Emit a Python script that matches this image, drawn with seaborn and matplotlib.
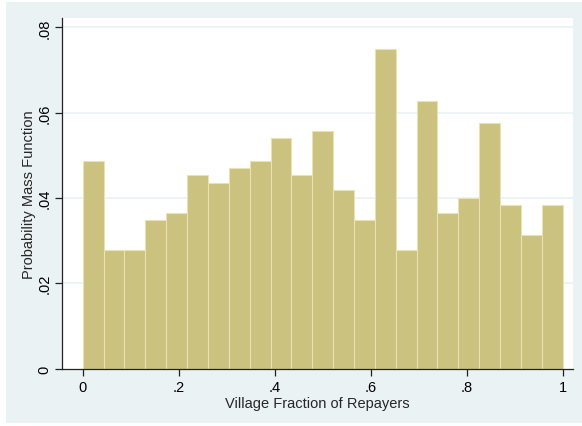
import numpy as np
import pandas as pd
import matplotlib
matplotlib.use("Agg")
import matplotlib.pyplot as plt
import matplotlib.patches as mpatches
import seaborn as sns

# Village counts per bin of the repayment fraction (23 equal-width bins on [0, 1])
bin_counts = [28, 16, 16, 20, 21, 26, 25, 27, 28, 31, 26, 32,
              24, 20, 43, 16, 36, 21, 23, 33, 22, 18, 22]
n_bins = 23
x_ticks = [0, 0.2, 0.4, 0.6, 0.8, 1.0]
x_tick_labels = ["0", ".2", ".4", ".6", ".8", "1"]
y_ticks = [0, 0.02, 0.04, 0.06, 0.08]
y_tick_labels = ["0", ".02", ".04", ".06", ".08"]

edges = np.linspace(0, 1, n_bins + 1)
centers = (edges[:-1] + edges[1:]) / 2
pmf = np.array(bin_counts) / sum(bin_counts)
df = pd.DataFrame({"fraction": centers, "pmf": pmf})

sns.set_style("white")
plt.rcParams["font.family"] = ["Liberation Sans", "DejaVu Sans"]

W, H = 582, 427
fig = plt.figure(figsize=(W / 100, H / 100), dpi=100)
fig.patch.set_facecolor("white")
bg = "#EAF2F3"
fig.patches.append(mpatches.Rectangle((6 / W, 3 / H), 1 - 6 / W, (424 - 3) / H,
                                      transform=fig.transFigure, facecolor=bg,
                                      edgecolor="none", zorder=-10))

ax = fig.add_axes([62.3 / W, 1 - 369.5 / H, (572.7 - 62.3) / W, (369.5 - 19) / H])
ax.set_facecolor("white")

sns.histplot(data=df, x="fraction", weights="pmf", bins=n_bins, binrange=(0, 1),
             stat="count", color="#CBC27F", edgecolor="#E8E2B4", linewidth=0.8,
             alpha=1.0, ax=ax, zorder=2)

ax.set_xlim(-0.0425, 1.0208)
ax.set_ylim(0, 0.0822)
for yv in y_ticks[1:]:
    ax.axhline(yv, color=bg, linewidth=1.2, zorder=1)

ax.set_xticks(x_ticks)
ax.set_xticklabels(x_tick_labels, fontsize=10.5)
ax.set_yticks(y_ticks)
ax.set_yticklabels(y_tick_labels, fontsize=10.5, rotation=90, va="center")
ax.tick_params(axis="both", direction="out", length=5, width=0.9, color="#222222",
               labelcolor="black", pad=3)
ax.tick_params(axis="x", bottom=True)
ax.tick_params(axis="y", left=True)

ax.set_xlabel("Village Fraction of Repayers", fontsize=10.5, labelpad=2)
ax.set_ylabel("Probability Mass Function", fontsize=10.5, labelpad=0.5)

for side in ["top", "right"]:
    ax.spines[side].set_visible(False)
for side in ["left", "bottom"]:
    ax.spines[side].set_color("#222222")
    ax.spines[side].set_linewidth(0.9)

fig.savefig("out.png", dpi=100)
